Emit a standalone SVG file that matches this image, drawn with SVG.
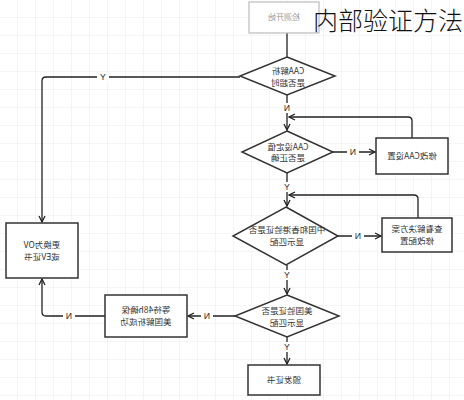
<svg xmlns="http://www.w3.org/2000/svg" width="464" height="400" viewBox="0 0 464 400">
<defs>
<pattern id="grid" width="18" height="18" patternUnits="userSpaceOnUse">
<path d="M18 0V18M0 18H18" fill="none" stroke="#ebebeb" stroke-width="1"/>
</pattern>
<marker id="arr" markerWidth="8" markerHeight="8" refX="7" refY="4" orient="auto" markerUnits="userSpaceOnUse">
<path d="M1,1 L7,4 L1,7" fill="none" stroke="#222" stroke-width="1.3"/>
</marker>
<style>
.n{fill:#fff;stroke:#333;stroke-width:1.5}
.s{fill:#fff;stroke:#bbb;stroke-width:1.2}
.t{font-family:"Noto Sans CJK SC","Liberation Sans",sans-serif;font-size:8.5px;fill:#333;text-anchor:middle}
.tg{font-family:"Noto Sans CJK SC","Liberation Sans",sans-serif;font-size:8px;fill:#999;text-anchor:middle}
.c{fill:none;stroke:#222;stroke-width:1.3}
.l{font-family:"Liberation Sans",sans-serif;font-size:8.5px;fill:#222;text-anchor:middle}
.lb{fill:#fff}
</style>
</defs>
<rect width="464" height="400" fill="#fff"/>
<rect width="464" height="400" fill="url(#grid)"/>

<g id="connectors">
<path class="c" d="M287,33 V57"/>
<path class="c" d="M240,77 H46 Q42,77 42,81 V222" marker-end="url(#arr)"/>
<path class="c" d="M287,95 V130" marker-end="url(#arr)"/>
<path class="c" d="M412,138 V121 Q412,117 408,117 H289" marker-end="url(#arr)"/>
<path class="c" d="M333,152 H375" marker-end="url(#arr)"/>
<path class="c" d="M287,173 V206" marker-end="url(#arr)"/>
<path class="c" d="M418,218 V199 Q418,195 414,195 H289" marker-end="url(#arr)"/>
<path class="c" d="M338,236 H381" marker-end="url(#arr)"/>
<path class="c" d="M287,265 V294" marker-end="url(#arr)"/>
<path class="c" d="M235,316 H188" marker-end="url(#arr)"/>
<path class="c" d="M105,316 H46 Q42,316 42,312 V279" marker-end="url(#arr)"/>
<path class="c" d="M287,337 V364" marker-end="url(#arr)"/>
<g id="labels">
<rect class="lb" x="97" y="72" width="12" height="10"/>
<text class="l" transform="scale(-1,1)" x="-103" y="80">Y</text>
<rect class="lb" x="282" y="103" width="10" height="10"/>
<text class="l" transform="scale(-1,1)" x="-287" y="111">N</text>
<rect class="lb" x="347" y="147" width="12" height="10"/>
<text class="l" transform="scale(-1,1)" x="-353" y="155">N</text>
<rect class="lb" x="282" y="182" width="10" height="10"/>
<text class="l" transform="scale(-1,1)" x="-287" y="190">Y</text>
<rect class="lb" x="352" y="231" width="12" height="10"/>
<text class="l" transform="scale(-1,1)" x="-358" y="239">N</text>
<rect class="lb" x="282" y="270" width="10" height="10"/>
<text class="l" transform="scale(-1,1)" x="-287" y="278">Y</text>
<rect class="lb" x="201" y="311" width="12" height="10"/>
<text class="l" transform="scale(-1,1)" x="-207" y="319">N</text>
<rect class="lb" x="63" y="311" width="12" height="10"/>
<text class="l" transform="scale(-1,1)" x="-69" y="319">N</text>
<rect class="lb" x="282" y="342" width="10" height="10"/>
<text class="l" transform="scale(-1,1)" x="-287" y="350">Y</text>
</g>
</g>

<g id="start">
<rect class="s" x="249" y="2" width="70" height="31"/>
<text class="tg" transform="scale(-1,1)" x="-284" y="20">检测开始</text>
</g>

<g id="d1">
<polygon class="n" points="287,57 335,76 287,95 240,76"/>
<text class="t" transform="scale(-1,1)" x="-288" y="74">CAA解析</text>
<text class="t" transform="scale(-1,1)" x="-288" y="86">是否超时</text>
</g>

<g id="d2">
<polygon class="n" points="287,131 333,152 287,173 242,152"/>
<text class="t" transform="scale(-1,1)" x="-288" y="150">CAA设定值</text>
<text class="t" transform="scale(-1,1)" x="-288" y="161">是否正确</text>
</g>

<g id="fixcaa">
<rect class="n" x="376" y="138" width="72" height="36"/>
<text class="t" transform="scale(-1,1)" x="-412" y="159">修改CAA设置</text>
</g>

<g id="d3">
<polygon class="n" points="286,207 338,236 286,265 233,236"/>
<text class="t" transform="scale(-1,1)" x="-287" y="233">中国和香港验证是否</text>
<text class="t" transform="scale(-1,1)" x="-287" y="245">显示匹配</text>
</g>

<g id="solution">
<rect class="n" x="382" y="218" width="70" height="34"/>
<text class="t" transform="scale(-1,1)" x="-417" y="232">查看解决方案</text>
<text class="t" transform="scale(-1,1)" x="-417" y="244">修改配置</text>
</g>

<g id="d4">
<polygon class="n" points="287,295 339,316 287,337 235,316"/>
<text class="t" transform="scale(-1,1)" x="-287" y="314">美国验证是否</text>
<text class="t" transform="scale(-1,1)" x="-287" y="326">显示匹配</text>
</g>

<g id="wait">
<rect class="n" x="105" y="295" width="82" height="42"/>
<text class="t" transform="scale(-1,1)" x="-146" y="313">等待48h确保</text>
<text class="t" transform="scale(-1,1)" x="-146" y="325">美国解析成功</text>
</g>

<g id="ovev">
<rect class="n" x="6" y="223" width="72" height="55"/>
<text class="t" transform="scale(-1,1)" x="-42" y="248">更换为OV</text>
<text class="t" transform="scale(-1,1)" x="-42" y="260">或EV证书</text>
</g>

<g id="issue">
<rect class="n" x="248" y="365" width="72" height="30"/>
<text class="t" transform="scale(-1,1)" x="-284" y="383">颁发证书</text>
</g>

<text x="313" y="30" font-family="Noto Sans CJK SC, sans-serif" font-size="25" font-weight="300" fill="#111">内部验证方法</text>
</svg>
